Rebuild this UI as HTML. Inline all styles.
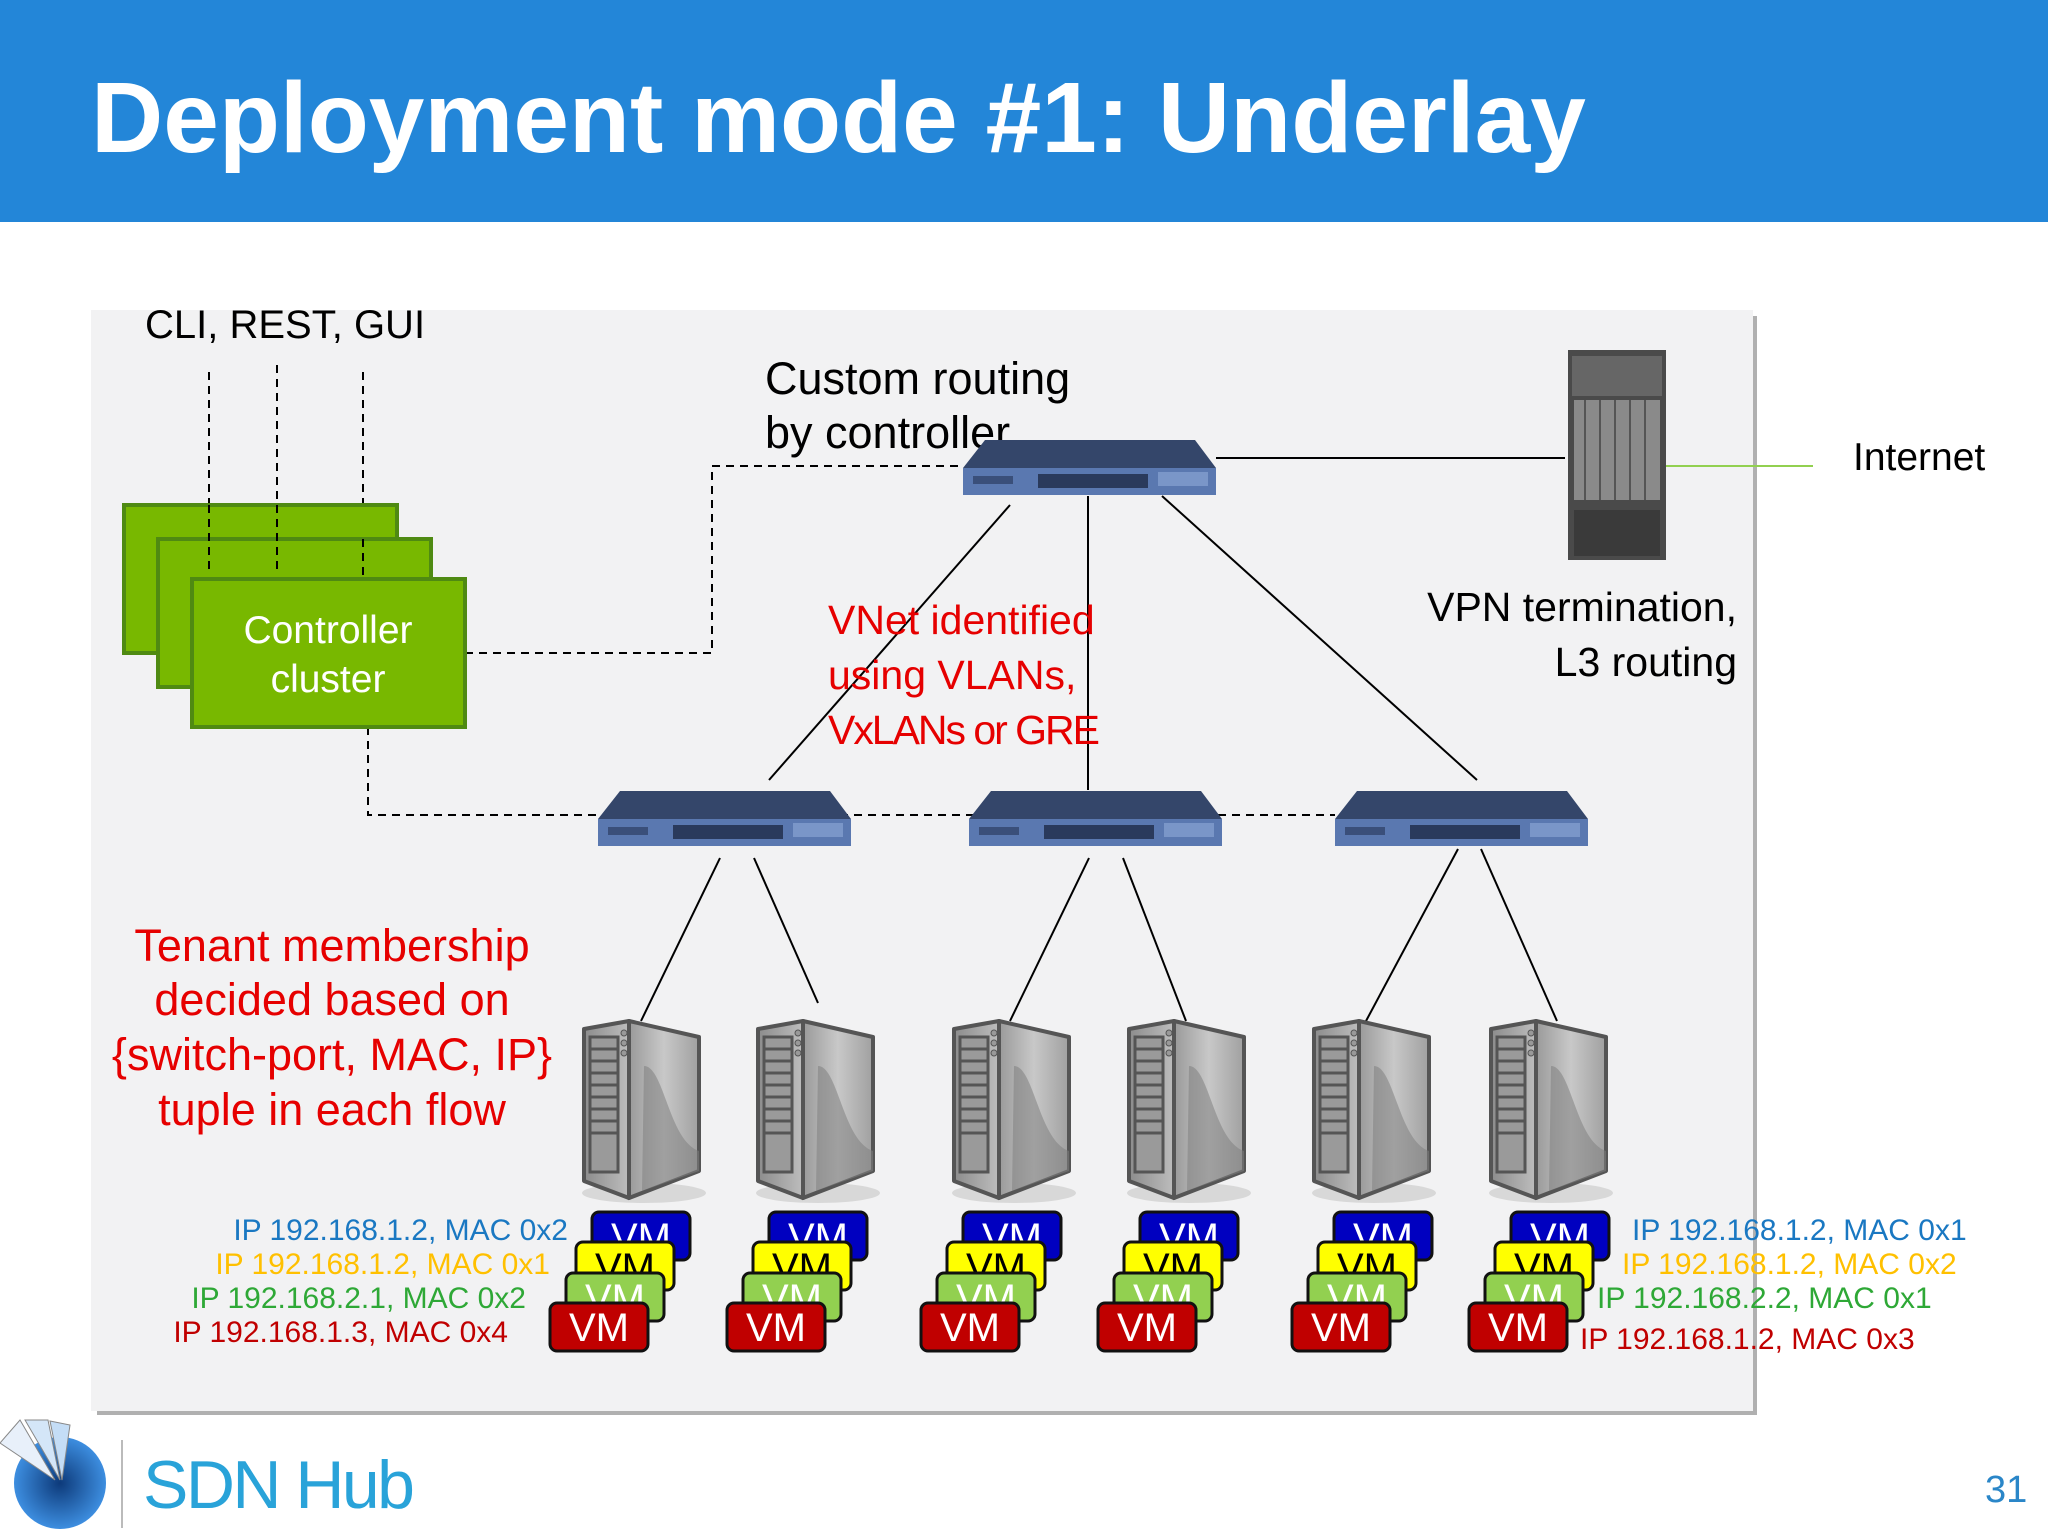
<!DOCTYPE html>
<html><head><meta charset="utf-8"><style>
html,body{margin:0;padding:0;background:#fff;}
svg{display:block;font-family:"Liberation Sans",sans-serif;}
</style></head><body>
<svg width="2048" height="1536" viewBox="0 0 2048 1536" xmlns="http://www.w3.org/2000/svg">
<defs>
<linearGradient id="sv" x1="0" x2="1" y1="0" y2="0"><stop offset="0" stop-color="#9a9a9a"/><stop offset="0.5" stop-color="#c8c8c8"/><stop offset="1" stop-color="#a0a0a0"/></linearGradient>
<linearGradient id="sf" x1="0" x2="1"><stop offset="0" stop-color="#8c8c8c"/><stop offset="1" stop-color="#bdbdbd"/></linearGradient>
<radialGradient id="lg" cx="0.5" cy="0.5" r="0.5"><stop offset="0" stop-color="#0d3a7a"/><stop offset="1" stop-color="#3d8ee0"/></radialGradient>
<g id="sw">
 <polygon points="22,0 232,0 253,28 0,28" fill="#34466a"/>
 <rect x="0" y="28" width="253" height="27" fill="#5a78b0"/>
 <rect x="75" y="34" width="110" height="14" fill="#2a3a5c"/>
 <rect x="195" y="32" width="50" height="14" fill="#7a96c8"/>
 <rect x="10" y="36" width="40" height="8" fill="#3a4f7a"/>
</g>
<g id="srv">
 <ellipse cx="60" cy="172" rx="62" ry="10" fill="#d8d8d8"/>
 <polygon points="45,0 115,16 115,150 45,177" fill="url(#sv)" stroke="#555" stroke-width="4" stroke-linejoin="round"/>
 <polygon points="0,8 45,0 45,177 0,160" fill="url(#sf)" stroke="#555" stroke-width="4" stroke-linejoin="round"/>
 <rect x="6" y="16" width="28" height="135" fill="#9a9a9a" stroke="#555" stroke-width="3"/>
 <g stroke="#555" stroke-width="3"><line x1="6" y1="28" x2="34" y2="28"/><line x1="6" y1="40" x2="34" y2="40"/><line x1="6" y1="52" x2="34" y2="52"/><line x1="6" y1="64" x2="34" y2="64"/><line x1="6" y1="76" x2="34" y2="76"/><line x1="6" y1="88" x2="34" y2="88"/><line x1="6" y1="100" x2="34" y2="100"/><line x1="6" y1="112" x2="34" y2="112"/></g>
 <circle cx="40" cy="12" r="3" fill="#999" stroke="#555"/><circle cx="40" cy="22" r="3" fill="#999" stroke="#555"/><circle cx="40" cy="32" r="3" fill="#999" stroke="#555"/>
 <path d="M60,45 C80,45 85,120 115,130 L115,150 L58,170 Z" fill="#808080" opacity="0.55"/>
</g>
<g id="vms" font-size="40" text-anchor="middle">
 <rect x="42" y="-91" width="98" height="48" rx="7" fill="#0000c0" stroke="#111" stroke-width="3"/><text x="91" y="-52" fill="#fff">VM</text>
 <rect x="26" y="-61" width="98" height="48" rx="7" fill="#ffff00" stroke="#111" stroke-width="3"/><text x="75" y="-22" fill="#000">VM</text>
 <rect x="16" y="-30" width="98" height="48" rx="7" fill="#92d050" stroke="#111" stroke-width="3"/><text x="65" y="9" fill="#fff">VM</text>
 <rect x="0" y="0" width="98" height="48" rx="7" fill="#c00000" stroke="#111" stroke-width="3"/><text x="49" y="38" fill="#fff">VM</text>
</g>
</defs>

<rect x="0" y="0" width="2048" height="222" fill="#2386d8"/>
<text x="91" y="152" font-size="100" font-weight="bold" fill="#fff">Deployment mode #1: Underlay</text>

<rect x="97" y="316" width="1660" height="1099" fill="#b0b0b0"/>
<rect x="91" y="310" width="1662" height="1101" fill="#f2f2f3"/>

<text x="145" y="338" font-size="40" fill="#000">CLI, REST, GUI</text>
<g stroke="#000" stroke-width="2" stroke-dasharray="8,6" fill="none">
 <line x1="209" y1="372" x2="209" y2="575"/><line x1="277" y1="365" x2="277" y2="575"/><line x1="363" y1="372" x2="363" y2="575"/>
 <polyline points="465,653 712,653 712,466 963,466"/>
 <polyline points="368,727 368,815 1335,815"/>
</g>
<rect x="124" y="505" width="273" height="148" fill="#78b800" stroke="#4f8a12" stroke-width="4"/>
<rect x="158" y="539" width="273" height="148" fill="#78b800" stroke="#4f8a12" stroke-width="4"/>
<rect x="192" y="579" width="273" height="148" fill="#78b800" stroke="#4f8a12" stroke-width="4"/>
<g stroke="#000" stroke-width="2" stroke-dasharray="8,6"><line x1="209" y1="505" x2="209" y2="575"/><line x1="277" y1="505" x2="277" y2="575"/><line x1="363" y1="539" x2="363" y2="575"/></g>
<text x="328" y="643" font-size="39" fill="#fff" text-anchor="middle">Controller</text>
<text x="328" y="692" font-size="39" fill="#fff" text-anchor="middle">cluster</text>

<g stroke="#000" stroke-width="2" fill="none">
 <line x1="1216" y1="458" x2="1565" y2="458"/>
 <line x1="1010" y1="505" x2="769" y2="780"/>
 <line x1="1088" y1="496" x2="1088" y2="790"/>
 <line x1="1162" y1="496" x2="1477" y2="780"/>
 <line x1="720" y1="858" x2="641" y2="1021"/><line x1="754" y1="858" x2="818" y2="1003"/>
 <line x1="1089" y1="858" x2="1010" y2="1021"/><line x1="1123" y1="858" x2="1186" y2="1021"/>
 <line x1="1458" y1="849" x2="1366" y2="1021"/><line x1="1481" y1="849" x2="1557" y2="1021"/>
</g>
<line x1="1659" y1="466" x2="1813" y2="466" stroke="#92d050" stroke-width="2"/>

<text x="765" y="394" font-size="45" fill="#000">Custom routing</text>
<text x="765" y="448" font-size="45" fill="#000">by controller</text>
<use href="#sw" x="963" y="440"/>
<use href="#sw" x="598" y="791"/>
<use href="#sw" x="969" y="791"/>
<use href="#sw" x="1335" y="791"/>

<g>
 <rect x="1568" y="350" width="98" height="210" fill="#4a4a4a"/>
 <rect x="1572" y="356" width="90" height="40" fill="#666"/>
 <rect x="1574" y="400" width="86" height="100" fill="#8a8a8a"/>
 <g stroke="#555" stroke-width="2"><line x1="1585" y1="400" x2="1585" y2="500"/><line x1="1600" y1="400" x2="1600" y2="500"/><line x1="1615" y1="400" x2="1615" y2="500"/><line x1="1630" y1="400" x2="1630" y2="500"/><line x1="1645" y1="400" x2="1645" y2="500"/></g>
 <rect x="1574" y="510" width="86" height="46" fill="#3a3a3a"/>
</g>
<text x="1853" y="470" font-size="39" fill="#000">Internet</text>
<text x="1737" y="621" font-size="41" fill="#000" text-anchor="end">VPN termination,</text>
<text x="1737" y="676" font-size="41" fill="#000" text-anchor="end">L3 routing</text>

<g font-size="41" fill="#e60000">
 <text x="828" y="634">VNet identified</text>
 <text x="828" y="689">using VLANs,</text>
 <text x="828" y="744" textLength="272">VxLANs or GRE</text>
</g>
<g font-size="45" fill="#e60000" text-anchor="middle">
 <text x="332" y="961">Tenant membership</text>
 <text x="332" y="1015">decided based on</text>
 <text x="332" y="1070">{switch-port, MAC, IP}</text>
 <text x="332" y="1125">tuple in each flow</text>
</g>

<use href="#srv" x="584" y="1021"/>
<use href="#srv" x="758" y="1021"/>
<use href="#srv" x="954" y="1021"/>
<use href="#srv" x="1129" y="1021"/>
<use href="#srv" x="1314" y="1021"/>
<use href="#srv" x="1491" y="1021"/>

<use href="#vms" x="550" y="1303"/>
<use href="#vms" x="727" y="1303"/>
<use href="#vms" x="921" y="1303"/>
<use href="#vms" x="1098" y="1303"/>
<use href="#vms" x="1292" y="1303"/>
<use href="#vms" x="1469" y="1303"/>

<g font-size="30" text-anchor="end">
 <text x="568" y="1240" fill="#1a78c2">IP 192.168.1.2, MAC 0x2</text>
 <text x="550" y="1274" fill="#ffc000">IP 192.168.1.2, MAC 0x1</text>
 <text x="526" y="1308" fill="#2ea836">IP 192.168.2.1, MAC 0x2</text>
 <text x="508" y="1342" fill="#c00000">IP 192.168.1.3, MAC 0x4</text>
</g>
<g font-size="30">
 <text x="1632" y="1240" fill="#1a78c2">IP 192.168.1.2, MAC 0x1</text>
 <text x="1622" y="1274" fill="#ffc000">IP 192.168.1.2, MAC 0x2</text>
 <text x="1597" y="1308" fill="#2ea836">IP 192.168.2.2, MAC 0x1</text>
 <text x="1580" y="1349" fill="#c00000">IP 192.168.1.2, MAC 0x3</text>
</g>

<circle cx="60" cy="1483" r="46" fill="url(#lg)"/>
<polygon points="0,1443 20,1420 55,1480" fill="#e8f0fa" stroke="#888" stroke-width="1"/>
<polygon points="25,1420 48,1420 60,1480" fill="#d4e6f8" stroke="#888" stroke-width="1"/>
<polygon points="50,1421 70,1425 62,1480" fill="#c4ddf6" stroke="#888" stroke-width="1"/>
<line x1="122" y1="1440" x2="122" y2="1528" stroke="#bbb" stroke-width="2"/>
<text x="143" y="1508" font-size="68" fill="#29a3d9" textLength="272">SDN Hub</text>
<text x="1985" y="1502" font-size="38" fill="#2a86c8">31</text>
</svg>
</body></html>
